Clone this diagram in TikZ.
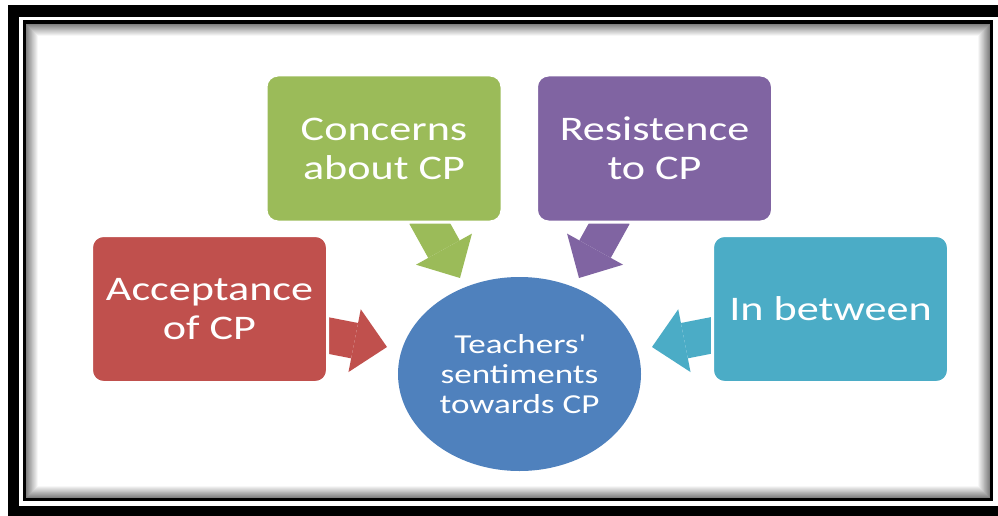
\documentclass[tikz,border=0pt]{standalone}
\usepackage{fontspec}
\setmainfont{Carlito}[FakeStretch=1.28]
\usetikzlibrary{shapes.geometric, arrows.meta, positioning}
\definecolor{accred}{HTML}{C0504D}
\definecolor{congreen}{HTML}{9BBB59}
\definecolor{respurple}{HTML}{8064A2}
\definecolor{betteal}{HTML}{4BACC6}
\definecolor{hubblue}{HTML}{4F81BD}
\tikzset{
  block/.style    = {rectangle, rounded corners=12pt, draw=white, line width=3pt,
                     minimum width=236pt, minimum height=147pt, align=center,
                     text=white, inner sep=0pt,
                     font=\fontsize{34.5}{39}\selectfont},
  hub/.style      = {ellipse, fill=hubblue, minimum width=243pt,
                     minimum height=194pt, align=center, text=white,
                     inner sep=0pt, font=\fontsize{27.4}{30}\selectfont},
  blockarr/.style = {line width=36pt,
                     -{Triangle[length=33pt, width=64pt, line width=0pt]}},
}

\begin{document}
\begin{tikzpicture}[x=1pt, y=-1pt]
  \useasboundingbox (0,0) rectangle (998,516);
  \clip (0,0) rectangle (998,516);
  \fill[white] (0,0) rectangle (998,516);

  % frame with inner shadow
  \draw[line width=11.5pt] (13.5,11) rectangle (1010,512);
  \draw[line width=3.5pt] (24.5,22) rectangle (991.5,499.5);
  \foreach \i in {0,...,11} {
    \pgfmathtruncatemacro\shadelevel{50-4.2*\i}
    \draw[black!\shadelevel, line width=1pt]
      (26.8+\i,24.3+\i) rectangle (989.2-\i,497.7-\i);
  }

  % block arrows
  \coordinate (acctail) at (318,333.5);
  \coordinate (acctip)  at (387,347);
  \coordinate (contail) at (425,215);
  \coordinate (contip)  at (460,278);
  \coordinate (restail) at (614,215);
  \coordinate (restip)  at (579,278);
  \coordinate (bettail) at (721,333.5);
  \coordinate (bettip)  at (652,347);

  \draw[blockarr, accred]    (acctail) -- (acctip);
  \draw[blockarr, congreen]  (contail) -- (contip);
  \draw[blockarr, respurple] (restail) -- (restip);
  \draw[blockarr, betteal]   (bettail) -- (bettip);

  \node[block, fill=accred]    (acc) at (209.5,309)   {Acceptance\\of CP};
  \node[block, fill=congreen]  (con) at (384,148.5)   {Concerns\\about CP};
  \node[block, fill=respurple] (res) at (654.5,148.5) {Resistence\\to CP};
  \node[block, fill=betteal]   (bet) at (830.5,309)   {In between};
  \node[hub] (hub) at (519.5,374)
    {Teachers\textquotesingle\\sentiments\\towards CP};
\end{tikzpicture}
\end{document}
